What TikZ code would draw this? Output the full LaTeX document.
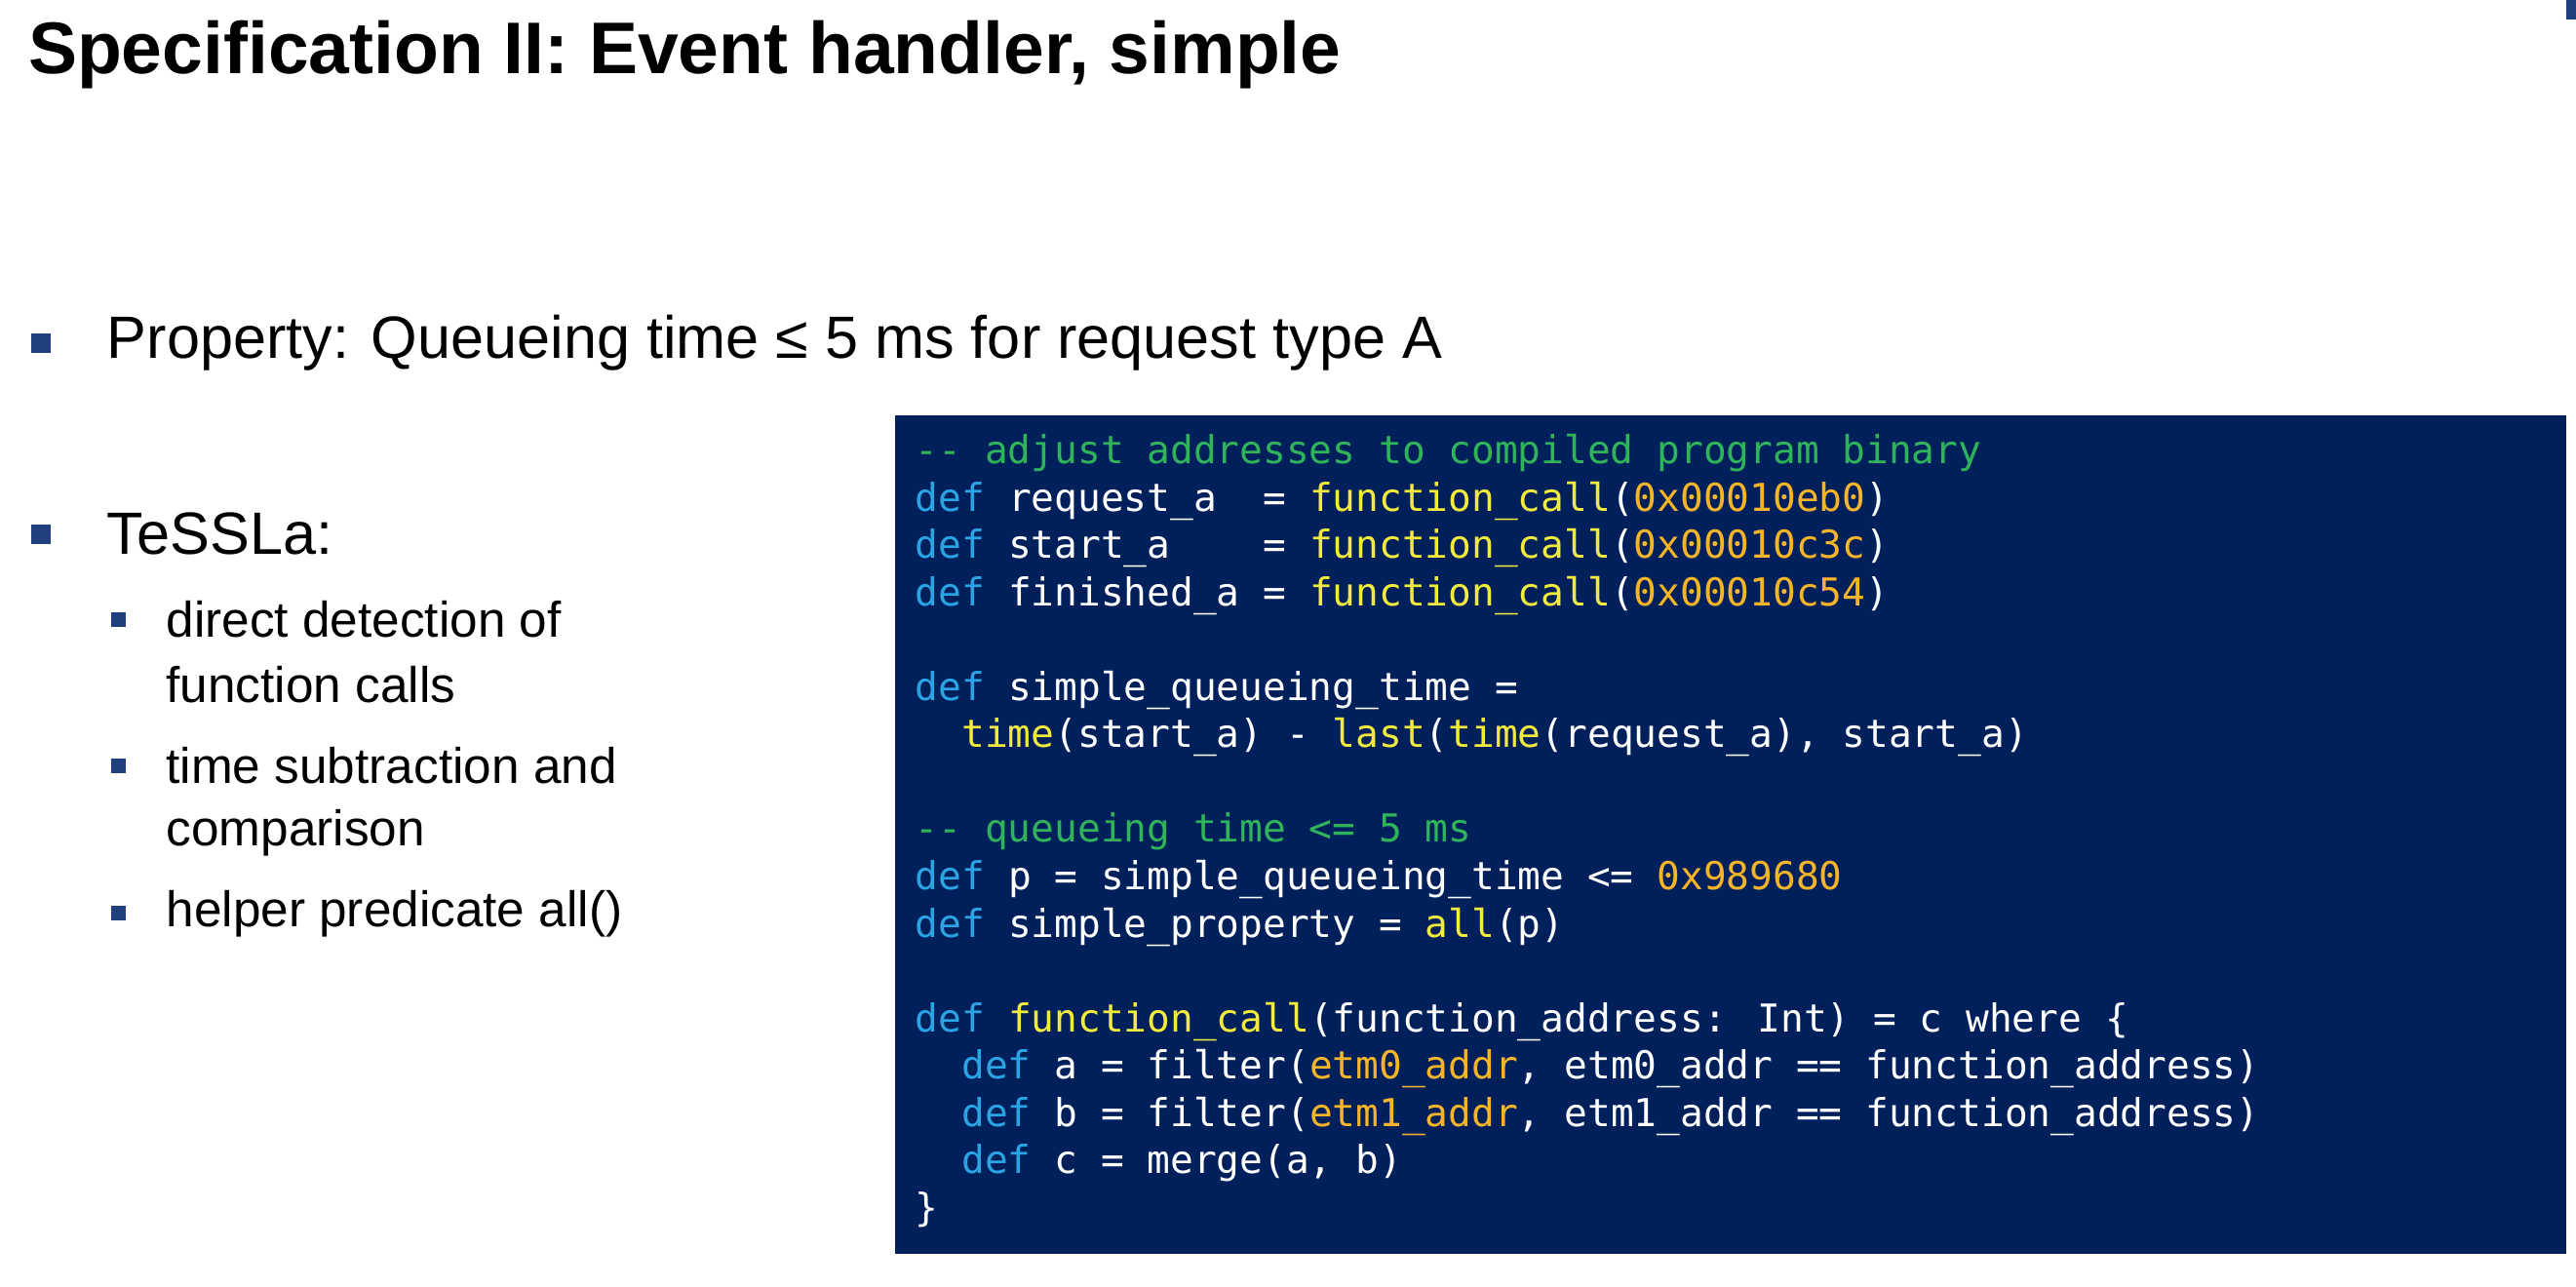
\documentclass[tikz,border=0pt]{standalone}
\usepackage{fontspec}
\setmainfont{Liberation Sans}
\newfontfamily\codefont{DejaVu Sans Mono}
\definecolor{codebg}{HTML}{00205B}
\definecolor{kwblue}{HTML}{2AA4E4}
\definecolor{fnyellow}{HTML}{F2EA3C}
\definecolor{hexorange}{HTML}{F5B42A}
\definecolor{cmtgreen}{HTML}{2FB45A}
\definecolor{bulletblue}{HTML}{1F3F7F}
\newcommand{\kw}[1]{\textcolor{kwblue}{#1}}
\newcommand{\fn}[1]{\textcolor{fnyellow}{#1}}
\newcommand{\hexv}[1]{\textcolor{hexorange}{#1}}
\newcommand{\cmt}[1]{\textcolor{cmtgreen}{#1}}

\begin{document}
\begin{tikzpicture}[x=0.03cm,y=-0.03cm,
    bigbullet/.style={fill=bulletblue,minimum size=12*0.03cm,inner sep=0pt},
    smallbullet/.style={fill=bulletblue,minimum size=9*0.03cm,inner sep=0pt},
    bigtext/.style={anchor=west,inner sep=0pt,font=\fontsize{31}{36}\selectfont},
    smalltext/.style={anchor=west,inner sep=0pt,font=\fontsize{26}{31}\selectfont}]
        \useasboundingbox (0,0) rectangle (1568,783);
        \fill[bulletblue] (1562,0) rectangle (1568,12);

        \node[anchor=base west,inner sep=0pt,font=\bfseries\fontsize{38}{44}\selectfont] (title) at (17,45) {Specification II: Event handler, simple};

        \node[bigbullet] (b1) at (25,209) {};
        \node[bigtext] (prop) at (65,209) {Property: Queueing time ≤ 5 ms for request type A};
        \node[bigbullet] (b2) at (25,325) {};
        \node[bigtext] (tessla) at (65,325) {TeSSLa:};

        \node[smallbullet] (s1) at (72,377) {};
        \node[smalltext] (t1) at (101,377) {direct detection of};
        \node[smalltext] (t1b) at (101,417) {function calls};
        \node[smallbullet] (s2) at (72,466) {};
        \node[smalltext] (t2) at (101,466) {time subtraction and};
        \node[smalltext] (t2b) at (101,507) {comparison};
        \node[smallbullet] (s3) at (72,556) {};
        \node[smalltext] (t3) at (101,556) {helper predicate all()};

        \fill[codebg] (545,253) rectangle (1562,763);
        \node[anchor=north west,inner sep=0pt,align=left,text=white,
              font=\codefont\fontsize{20}{24.6}\selectfont] (code) at (557,264) {%
\cmt{-- adjust addresses to compiled program binary}\\
\kw{def} request\_a~~= \fn{function\_call}(\hexv{0x00010eb0})\\
\kw{def} start\_a~~~~= \fn{function\_call}(\hexv{0x00010c3c})\\
\kw{def} finished\_a = \fn{function\_call}(\hexv{0x00010c54})\\
\mbox{}\\
\kw{def} simple\_queueing\_time =\\
~~\fn{time}(start\_a) - \fn{last}(\fn{time}(request\_a), start\_a)\\
\mbox{}\\
\cmt{-- queueing time <= 5 ms}\\
\kw{def} p = simple\_queueing\_time <= \hexv{0x989680}\\
\kw{def} simple\_property = \fn{all}(p)\\
\mbox{}\\
\kw{def} \fn{function\_call}(function\_address: Int) = c where \{\\
~~\kw{def} a = filter(\hexv{etm0\_addr}, etm0\_addr == function\_address)\\
~~\kw{def} b = filter(\hexv{etm1\_addr}, etm1\_addr == function\_address)\\
~~\kw{def} c = merge(a, b)\\
\}};
    \end{tikzpicture}
\end{document}
